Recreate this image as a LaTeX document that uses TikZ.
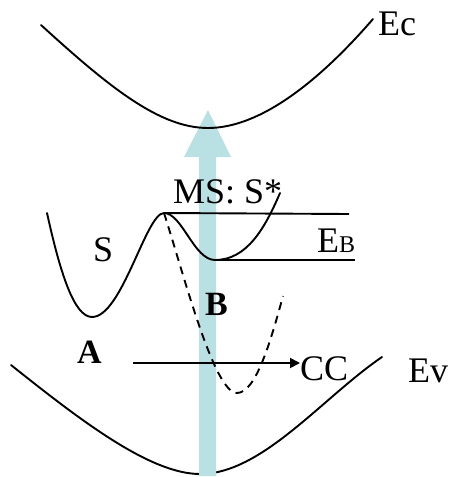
\documentclass[tikz,border=0pt]{standalone}
\usepackage{fontspec}
\setmainfont{Liberation Serif}
\usetikzlibrary{arrows.meta}
\definecolor{arrowblue}{RGB}{185,224,227}
\tikzset{
  curve/.style={line width=1.9pt, line cap=round},
  dashcurve/.style={line width=1.9pt, dash pattern=on 8pt off 6pt},
  lbl/.style={inner sep=0pt, anchor=base west, font=\fontsize{36}{40}\selectfont},
  blbl/.style={inner sep=0pt, anchor=base west, font=\fontsize{34}{38}\selectfont\bfseries},
  level/.style={line width=1.9pt}
}
\begin{document}
\begin{tikzpicture}[x=1pt,y=-1pt]
\useasboundingbox (0,0) rectangle (451,477);
% Ev band curve (under the blue arrow)
\draw[curve] (11,365) .. controls (80,420) and (150,474) .. (200,474)
  .. controls (262,474) and (322,398) .. (382,357);
% blue arrow
\fill[arrowblue] (199,476) -- (199,157) -- (184,157) -- (208,110) -- (231,157) -- (216,157) -- (216,476) -- cycle;
% Ec band curve
\draw[curve] (41,25) .. controls (110,88) and (160,128) .. (208,128)
  .. controls (262,128) and (322,78) .. (373,19);
% levels
\coordinate (peak) at (164,213);
\coordinate (msmin) at (215,260);
\coordinate (l1end) at (349,214);
\coordinate (l2end) at (355,260);
\draw[level] (peak) -- (l1end);
\draw[level] (msmin) -- (l2end);
% S curve with MS: S*
\draw[curve] (47,213) .. controls (60,272) and (74,317) .. (92,317)
  .. controls (122,317) and (146,213) .. (peak)
  .. controls (182,213) and (194,260) .. (msmin)
  .. controls (247,260) and (265,228) .. (280,193);
% dashed curve
\draw[dashcurve] (peak) .. controls (184,275) and (214,393) .. (237,393)
  .. controls (256,393) and (271,340) .. (283,296);
% labels
\node[lbl] (Ec) at (378,35) {Ec};
\node[lbl] (MS) at (173,203) {MS: S*};
\node[lbl] (S) at (93,261) {S};
\node[lbl] (EB) at (317,252) {E{\fontsize{24}{28}\selectfont B}};
\node[blbl] (A) at (77,363) {A};
\node[blbl] (B) at (205,315) {B};
\node[lbl] (CC) at (300,380) {CC};
\node[lbl] (Ev) at (408,382) {Ev};
% horizontal arrow
\coordinate (ccstart) at (133,363);
\draw[line width=1.9pt, -{Triangle[length=10pt,width=10pt]}] (ccstart) -- (ccstart -| CC.west);
\end{tikzpicture}
\end{document}
